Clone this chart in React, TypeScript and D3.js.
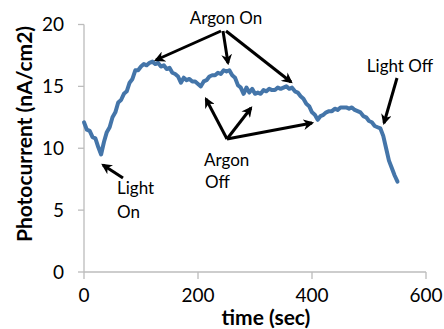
import React from "react";
import * as d3 from "d3";

// Photocurrent trace (nA/cm2) sampled every 5 s
const times = [
  0, 5, 10, 15, 20, 25, 30, 35, 40, 45, 50, 55, 60, 65, 70, 75, 80, 85, 90, 95,
  100, 105, 110, 115, 120, 125, 130, 135, 140, 145, 150, 155, 160, 165, 170, 175, 180, 185, 190, 195,
  200, 205, 210, 215, 220, 225, 230, 235, 240, 245, 250, 255, 260, 265, 270, 275, 280, 285, 290, 295,
  300, 305, 310, 315, 320, 325, 330, 335, 340, 345, 350, 355, 360, 365, 370, 375, 380, 385, 390, 395,
  400, 405, 410, 415, 420, 425, 430, 435, 440, 445, 450, 455, 460, 465, 470, 475, 480, 485, 490, 495,
  500, 505, 510, 515, 520, 525, 530, 535, 540, 545, 550,
];
const current = [
  12.1, 11.5, 11.4, 10.9, 10.8, 10.1, 9.5, 10.5, 11.3, 11.7, 12.5, 12.9, 13.7, 13.9, 14.4, 14.6, 15.3, 15.6, 16.3, 16.3,
  16.6, 16.8, 16.7, 16.9, 17.0, 16.8, 16.9, 16.6, 16.7, 16.4, 16.5, 16.1, 16.0, 15.8, 15.3, 15.7, 15.5, 15.6, 15.4, 15.4,
  15.2, 15.0, 15.4, 15.5, 15.8, 15.9, 15.9, 16.1, 16.0, 16.3, 16.2, 16.3, 15.9, 15.7, 15.1, 14.9, 14.4, 14.9, 14.5, 14.8,
  14.4, 14.5, 14.4, 14.7, 14.6, 14.8, 14.7, 14.7, 14.9, 14.8, 14.9, 15.0, 14.8, 14.9, 14.6, 14.5, 14.2, 14.0, 13.6, 13.4,
  12.9, 12.7, 12.3, 12.6, 12.7, 12.9, 13.0, 13.0, 13.2, 13.1, 13.3, 13.3, 13.3, 13.2, 13.3, 13.1, 13.0, 12.9, 12.6, 12.5,
  12.2, 12.1, 11.8, 11.7, 11.6, 11.0, 10.0, 9.0, 8.4, 7.8, 7.3,
];

const xTicks = [0, 200, 400, 600];
const yTicks = [0, 5, 10, 15, 20];

const W = 444;
const H = 329;
const FONT = "Lato, 'Open Sans', sans-serif";

export default function App() {
  const x = d3.scaleLinear().domain([0, 600]).range([84, 426]);
  const y = d3.scaleLinear().domain([0, 20]).range([272, 24.5]);

  const pts: [number, number][] = times.map((t, i) => [t, current[i]]);
  const line = d3
    .line<[number, number]>()
    .x((d) => x(d[0]))
    .y((d) => y(d[1]))
    .curve(d3.curveLinear);

  const arrows: [number, number, number, number][] = [
    [221, 31, 156, 60],
    [223, 31, 228, 63],
    [226, 31, 291, 82],
    [397, 78, 384, 123],
    [227, 139, 206, 99],
    [227, 139, 251, 108],
    [227, 139, 312, 123],
    [123, 178, 103, 165],
  ];

  return (
    <svg
      width={W}
      height={H}
      style={{ position: "absolute", left: 0, top: 0, background: "#fff" }}
      fontFamily={FONT}
    >
      <defs>
        <marker
          id="head"
          viewBox="0 0 10 10"
          refX="8"
          refY="5"
          markerWidth="3.6"
          markerHeight="3.6"
          orient="auto"
          markerUnits="strokeWidth"
        >
          <path d="M0,0 L10,5 L0,10 L3,5 Z" fill="#000" />
        </marker>
      </defs>

      {/* axes */}
      <line x1={x(0)} x2={x(0)} y1={y(20)} y2={y(0)} stroke="#bcbcbc" strokeWidth={1.3} />
      <line x1={x(0)} x2={x(600)} y1={y(0)} y2={y(0)} stroke="#bcbcbc" strokeWidth={1.3} />
      {yTicks.map((v) => (
        <g key={"y" + v}>
          <line x1={x(0) - 6} x2={x(0)} y1={y(v)} y2={y(v)} stroke="#bcbcbc" strokeWidth={1.3} />
          <text x={64} y={y(v)} dy="0.36em" textAnchor="end" fontSize={19} fill="#000">
            {v}
          </text>
        </g>
      ))}
      {xTicks.map((v) => (
        <g key={"x" + v}>
          <line x1={x(v)} x2={x(v)} y1={y(0)} y2={y(0) + 7} stroke="#bcbcbc" strokeWidth={1.3} />
          <text x={x(v)} y={302} textAnchor="middle" fontSize={19} fill="#000">
            {v}
          </text>
        </g>
      ))}

      {/* axis titles */}
      <text
        transform={`translate(32,${134}) rotate(-90)`}
        textAnchor="middle"
        fontSize={21}
        fontWeight="bold"
        fill="#000"
      >
        Photocurrent (nA/cm2)
      </text>
      <text x={266} y={325} textAnchor="middle" fontSize={21} fontWeight="bold" fill="#000">
        time (sec)
      </text>

      {/* trace */}
      <path
        d={line(pts) || ""}
        fill="none"
        stroke="#4475a9"
        strokeWidth={4}
        strokeLinejoin="round"
        strokeLinecap="round"
      />

      {/* annotations */}
      {arrows.map((a, i) => (
        <line
          key={i}
          x1={a[0]}
          y1={a[1]}
          x2={a[2]}
          y2={a[3]}
          stroke="#000"
          strokeWidth={3}
          markerEnd="url(#head)"
        />
      ))}
      <g fontSize={17} fill="#000">
        <text x={226} y={24} textAnchor="middle">Argon On</text>
        <text x={400} y={72} textAnchor="middle">Light Off</text>
        <text x={204} y={166}>Argon</text>
        <text x={205} y={188}>Off</text>
        <text x={117} y={194}>Light</text>
        <text x={117} y={218}>On</text>
      </g>
    </svg>
  );
}
